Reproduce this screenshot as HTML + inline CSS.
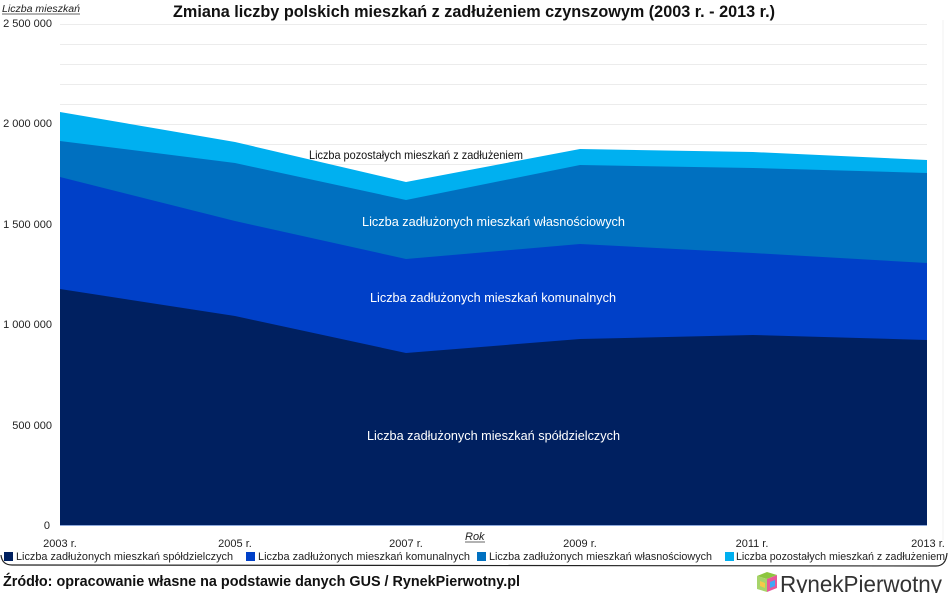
<!DOCTYPE html>
<html>
<head>
<meta charset="utf-8">
<style>
html,body{margin:0;padding:0;background:#fff;}
svg{display:block;}
text{font-family:"Liberation Sans",sans-serif;}
</style>
</head>
<body>
<svg width="948" height="593" viewBox="0 0 948 593" xmlns="http://www.w3.org/2000/svg">
<rect width="948" height="593" fill="#fff"/>
<!-- gridlines -->
<g stroke="#ececec" stroke-width="1">
<line x1="60" x2="927" y1="24.5" y2="24.5"/>
<line x1="60" x2="927" y1="44.5" y2="44.5"/>
<line x1="60" x2="927" y1="64.5" y2="64.5"/>
<line x1="60" x2="927" y1="84.5" y2="84.5"/>
<line x1="60" x2="927" y1="104.5" y2="104.5"/>
<line x1="60" x2="927" y1="124.5" y2="124.5"/>
<line x1="60" x2="927" y1="144.5" y2="144.5"/>
<line x1="60" x2="927" y1="164.5" y2="164.5"/>
</g>
<line x1="943" x2="943" y1="20" y2="540" stroke="#f2f2f2"/>
<!-- areas -->
<polygon fill="#00b0f0" points="60,112 235,142 406,182 580,149 753,152 927,160 927,525 60,525"/>
<polygon fill="#0070c0" points="60,141 235,163 406,200 580,165 753,168 927,173 927,525 60,525"/>
<polygon fill="#0040c8" points="60,177 235,221 406,259 580,244 753,253 927,263 927,525 60,525"/>
<polygon fill="#002060" points="60,289 235,316 406,353 580,339 753,335 927,340 927,525 60,525"/>
<line x1="60" x2="927" y1="525.5" y2="525.5" stroke="#8ea9db" stroke-width="1"/>

<!-- data labels -->
<text x="309" y="159" font-size="12" fill="#111" textLength="214" lengthAdjust="spacingAndGlyphs">Liczba pozostałych mieszkań z zadłużeniem</text>
<text x="362" y="226" font-size="13" fill="#fff" textLength="263" lengthAdjust="spacingAndGlyphs">Liczba zadłużonych mieszkań własnościowych</text>
<text x="370" y="302" font-size="13" fill="#fff" textLength="246" lengthAdjust="spacingAndGlyphs">Liczba zadłużonych mieszkań komunalnych</text>
<text x="367" y="440" font-size="13" fill="#fff" textLength="253" lengthAdjust="spacingAndGlyphs">Liczba zadłużonych mieszkań spółdzielczych</text>

<!-- title -->
<text x="173" y="17" font-size="17" font-weight="bold" fill="#111" textLength="602" lengthAdjust="spacingAndGlyphs">Zmiana liczby polskich mieszkań z zadłużeniem czynszowym (2003 r. - 2013 r.)</text>

<!-- y axis -->
<text x="2" y="12" font-size="10" font-style="italic" fill="#222" textLength="78" lengthAdjust="spacingAndGlyphs">Liczba mieszkań</text>
<line x1="2" x2="80" y1="14" y2="14" stroke="#333" stroke-width="0.7"/>
<g font-size="11" fill="#222" text-anchor="end">
<text x="52" y="27">2 500 000</text>
<text x="52" y="127">2 000 000</text>
<text x="52" y="228">1 500 000</text>
<text x="52" y="328">1 000 000</text>
<text x="52" y="429">500 000</text>
<text x="50" y="529">0</text>
</g>

<!-- x axis -->
<g font-size="11" fill="#222" text-anchor="middle">
<text x="60" y="547">2003 r.</text>
<text x="235" y="547">2005 r.</text>
<text x="406" y="547">2007 r.</text>
<text x="580" y="547">2009 r.</text>
<text x="752" y="547">2011 r.</text>
<text x="928" y="547">2013 r.</text>
</g>
<text x="465" y="540" font-size="11" font-style="italic" fill="#222">Rok</text>
<line x1="465" x2="485" y1="542" y2="542" stroke="#333" stroke-width="0.7"/>

<!-- legend -->
<g font-size="11" fill="#222">
<rect x="4" y="552" width="9" height="9" fill="#002060"/>
<text x="16" y="560" textLength="217" lengthAdjust="spacingAndGlyphs">Liczba zadłużonych mieszkań spółdzielczych</text>
<rect x="246" y="552" width="9" height="9" fill="#0040c8"/>
<text x="258" y="560" textLength="212" lengthAdjust="spacingAndGlyphs">Liczba zadłużonych mieszkań komunalnych</text>
<rect x="477" y="552" width="9" height="9" fill="#0070c0"/>
<text x="489" y="560" textLength="223" lengthAdjust="spacingAndGlyphs">Liczba zadłużonych mieszkań własnościowych</text>
<rect x="725" y="552" width="9" height="9" fill="#00b0f0"/>
<text x="736" y="560" textLength="209" lengthAdjust="spacingAndGlyphs">Liczba pozostałych mieszkań z zadłużeniem</text>
</g>
<!-- legend curved border -->
<path d="M1,555 Q2,565 12,565 L936,566 Q946,566 947,553" fill="none" stroke="#222" stroke-width="1.2"/>

<!-- source -->
<text x="3" y="586" font-size="15" font-weight="bold" fill="#111" textLength="517" lengthAdjust="spacingAndGlyphs">Źródło: opracowanie własne na podstawie danych GUS / RynekPierwotny.pl</text>

<!-- logo -->
<g>
<polygon points="757,576 767,572 777,575 767,579" fill="#8dc63f"/>
<polygon points="757,576 767,579 767,592 757,589" fill="#a7d46a"/>
<polygon points="767,579 777,575 777,588 767,592" fill="#e8589a"/>
<polygon points="770,582 775,580 775,586 770,588" fill="#3fa9f5"/>
<polygon points="760,581 765,583 765,588 760,586" fill="#f7c948"/>
</g>
<text x="780" y="592" font-size="23" fill="#333" textLength="162" lengthAdjust="spacingAndGlyphs">RynekPierwotny</text>
</svg>
</body>
</html>
